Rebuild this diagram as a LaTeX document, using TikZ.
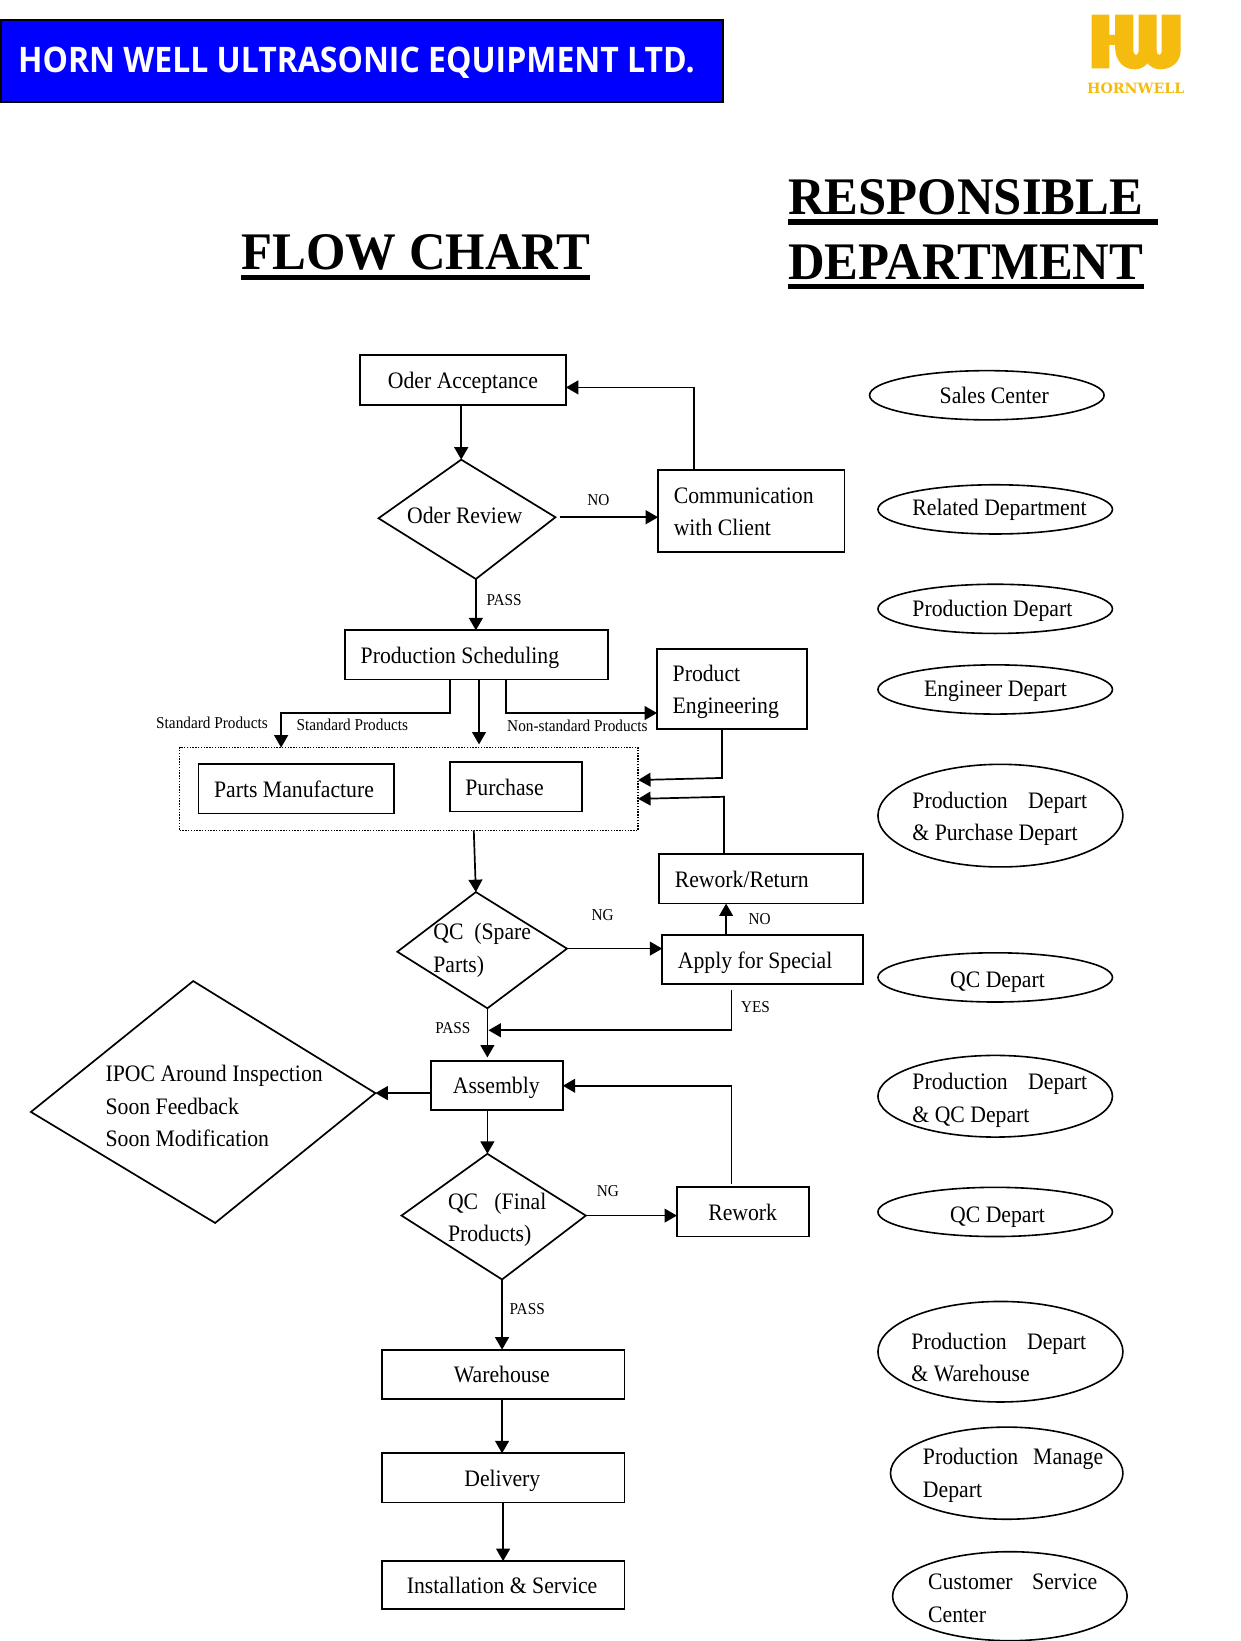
\documentclass[tikz,border=0pt]{standalone}
\usepackage{fontspec}
\setmainfont{Liberation Serif}[FakeStretch=0.92]
\newfontfamily\titlefont{Liberation Serif}[FakeStretch=0.96]
\newfontfamily\headfont{Open Sans}[FakeStretch=0.908]
\newfontfamily\logofont{DejaVu Serif}
\usetikzlibrary{arrows.meta,shapes.geometric}
\definecolor{logogold}{HTML}{F5BC0F}
\definecolor{headblue}{HTML}{0000FF}
\newcommand\bodysize{\fontsize{11.8}{16.2}\selectfont}
\newcommand\flowshape[9][0]{%
  \pgfmathsetmacro\fsX{(#4+#6)/2}\pgfmathsetmacro\fsY{(#5+#7)/2}%
  \pgfmathsetmacro\fsW{(#6-#4)*0.5235}\pgfmathsetmacro\fsH{(#7-#5)*0.5235}%
  \pgfmathsetmacro\fsO{(#8-\fsX)*0.5235}%
  \pgfmathsetmacro\fsD{-4.1-(#1)*0.5235}%
  \node[#2,minimum width=\fsW pt,minimum height=\fsH pt] (#3) at (\fsX,\fsY)
    {\makebox[0pt][l]{\hspace*{\fsO pt}\raisebox{\fsD pt}[0pt][0pt]{\begin{tabular}{@{}l@{}}#9\end{tabular}}}};%
}
\newcommand\flowdiamond[7]{% name, top, right, bottom, left, text pos, text
  \coordinate (#1-t) at (#2);\coordinate (#1-r) at (#3);\coordinate (#1-b) at (#4);\coordinate (#1-l) at (#5);
  \draw[flowline] (#1-t) -- (#1-r) -- (#1-b) -- (#1-l) -- cycle;
  \node[difftext] (#1) at (#6) {\begin{tabular}{@{}l@{}}#7\end{tabular}};%
}
\tikzset{
  flowline/.style={line width=0.85pt,draw=black},
  boxst/.style={draw=black,line width=0.9pt,rectangle,inner sep=0pt,outer sep=0pt,font=\bodysize},
  ovalst/.style={draw=black,line width=0.8pt,ellipse,inner sep=0pt,outer sep=0pt,font=\bodysize},
  difftext/.style={anchor=west,inner sep=0pt,font=\bodysize},
  arr/.style={flowline,-{Triangle[length=6.2pt,width=6.9pt]}},
  lab/.style={inner sep=0pt,font=\fontsize{8.3}{10}\selectfont},
  bigtitle/.style={inner sep=0pt,anchor=base west,font=\titlefont\bfseries\fontsize{26.4}{30}\selectfont},
}
\begin{document}
\begin{tikzpicture}[x=0.5235pt,y=-0.5235pt]
\useasboundingbox (0.5,0) rectangle (1185,1567.3);
\fill[white] (0.5,0) rectangle (1185,1567.3);
% header
\node[draw=black,line width=1pt,fill=headblue,minimum width=690*0.5235pt,minimum height=78*0.5235pt,inner sep=0pt] (head) at (346,58) {};
\node[inner sep=0pt,anchor=base west,text=white,font=\headfont\bfseries\fontsize{17.6}{20}\selectfont] (headtext) at (17.5,69) {HORN WELL ULTRASONIC EQUIPMENT LTD.};
% logo
\begin{scope}[shift={(1012.9,0)},x=0.16667pt,y=-0.16667pt]
\fill[logogold] (95,44) -- (148,44) -- (148,105) -- (165,105) -- (165,44) -- (220,44) -- (220,150)
  .. controls (220,170) and (236,170) .. (236,150) -- (236,44) -- (290,44) -- (290,150)
  .. controls (290,170) and (305,170) .. (305,150) -- (305,44) -- (362,44) -- (362,150)
  .. controls (362,190) and (330,208) .. (300,208) .. controls (285,208) and (270,200) .. (262,190)
  .. controls (255,200) and (240,208) .. (225,208) .. controls (195,208) and (165,190) .. (165,135)
  -- (148,135) -- (148,205) -- (95,205) -- cycle;
\node[inner sep=0pt,anchor=base west,text=logogold,font=\logofont\bfseries\fontsize{7.1}{8}\selectfont] (logotext) at (80,280) {HORNWELL};
\end{scope}
% titles
\node[bigtitle] (t1) at (231,257) {FLOW CHART};
\node[bigtitle] (t2) at (753,204.6) {RESPONSIBLE};
\node[bigtitle] (t3) at (753,266.5) {DEPARTMENT};
\fill (231,262.5) rectangle (564,267);
\fill (753,209.5) rectangle (1106,214.5);
\fill (753,271.6) rectangle (1093,276.4);
% boxes
\flowshape{boxst}{acc}{344}{339}{541}{387}{371}{Oder Acceptance}
\flowshape{boxst}{comm}{629}{449}{807}{527}{644}{Communication\\with Client}
\flowshape{boxst}{prod}{330}{602}{581}{649}{345}{Production Scheduling}
\flowshape{boxst}{eng}{628}{620}{771}{696}{643}{Product\\Engineering}
\node[draw=black,line width=0.7pt,dash pattern=on 0.7pt off 0.7pt,minimum width=438*0.5235pt,minimum height=79*0.5235pt,inner sep=0pt,outer sep=0pt] (dot) at (391,753.5) {};
\flowshape{boxst}{parts}{190}{730}{377}{777}{205}{Parts Manufacture}
\flowshape{boxst}{purch}{430}{728}{556}{775}{445}{Purchase}
\flowshape{boxst}{rr}{630}{816}{825}{863}{645}{Rework/Return}
\flowshape{boxst}{apply}{633}{893}{825}{940}{648}{Apply for Special}
\flowshape{boxst}{asm}{412}{1013}{538}{1060}{433}{Assembly}
\flowshape{boxst}{rew}{647}{1134}{773}{1181}{677}{Rework}
\flowshape{boxst}{ware}{365}{1289}{597}{1336}{434}{Warehouse}
\flowshape{boxst}{deliv}{365}{1388}{597}{1435}{444}{Delivery}
\flowshape{boxst}{inst}{365}{1491}{597}{1537}{389}{Installation \& Service}
% diamonds
\flowdiamond{rev}{441,439}{531,494}{455,553}{362,495}{389,494}{Oder Review}
\flowdiamond{qcs}{455,852}{542,906}{466,963}{380,909}{414,907}{QC\ \ (Spare\\Parts)}
\flowdiamond{ipoc}{185,937}{359,1044}{206,1168}{30,1062}{101,1058}{IPOC Around Inspection\\Soon Feedback\\Soon Modification}
\flowdiamond{qcf}{466,1102}{560,1161}{480,1222}{384,1161}{428,1164}{QC\ \ \ (Final\\Products)}
% ovals
\flowshape{ovalst}{o1}{831}{354}{1055}{401}{898}{Sales Center}
\flowshape[-2]{ovalst}{o2}{839}{463}{1063}{510}{872}{Related Department}
\flowshape[-1]{ovalst}{o3}{839}{558}{1063}{605}{872}{Production Depart}
\flowshape[-2]{ovalst}{o4}{839}{635}{1063}{682}{883}{Engineer Depart}
\flowshape{ovalst}{o5}{839}{730}{1073}{828}{872}{Production\hspace{10.2pt}Depart\\\& Purchase Depart}
\flowshape[1]{ovalst}{o6}{839}{910}{1063}{957}{908}{QC Depart}
\flowshape[1]{ovalst}{o7}{839}{1008}{1063}{1086}{872}{Production\hspace{10.2pt}Depart\\\& QC Depart}
\flowshape[2]{ovalst}{o8}{839}{1134}{1063}{1181}{908}{QC Depart}
\flowshape[5]{ovalst}{o9}{839}{1243}{1073}{1339}{871}{Production\hspace{10.2pt}Depart\\\& Warehouse}
\flowshape[-1]{ovalst}{o10}{851}{1363}{1073}{1451}{882}{Production\hspace{7.5pt}Manage\\Depart}
\flowshape[1]{ovalst}{o11}{853}{1482}{1077}{1567}{887}{Customer\hspace{9.8pt}Service\\Center}
% helper points
\coordinate (a1) at (535,494);
\coordinate (a2) at (663,370);
\coordinate (b1) at (430,681);\coordinate (b2) at (269,681);
\coordinate (b3) at (458,711);
\coordinate (b4) at (484,681);
\coordinate (c1) at (690,743);\coordinate (c2) at (610,745);
\coordinate (c3) at (692,761);\coordinate (c4) at (610,763);
\coordinate (d1) at (453,793);
\coordinate (e1) at (694,893);
\coordinate (f1) at (699,946);\coordinate (f2) at (699,984);\coordinate (f3) at (467,984);
\coordinate (g1) at (466,1010);
\coordinate (g2) at (412,1044);
\coordinate (h1) at (466,1060);
\coordinate (i1) at (699,1131);\coordinate (i2) at (699,1037);
\coordinate (j1) at (480,1289);
\coordinate (k1) at (481,1435);
% connectors
\draw[arr] (acc.south -| rev-t) -- (rev-t);
\draw[arr] (a1) -- (comm.west |- a1);
\draw[arr] (comm.north -| a2) -- (a2) -- (acc.east |- a2);
\draw[arr] (rev-b) -- (rev-b |- prod.north);
\draw[arr] (prod.south -| b1) -- (b1) -- (b2) -- (b2 |- dot.north);
\draw[arr] (prod.south -| b3) -- (b3);
\draw[arr] (prod.south -| b4) -- (b4) -- (eng.west |- b4);
\draw[arr] (eng.south -| c1) -- (c1) -- (c2);
\draw[arr] (rr.north -| c3) -- (c3) -- (c4);
\draw[arr] (d1) -- (qcs-t);
\draw[arr] (qcs-r) -- (apply.west |- qcs-r);
\draw[arr] (e1) -- (rr.south -| e1);
\draw[arr] (f1) -- (f2) -- (f3);
\draw[arr] (qcs-b) -- (g1);
\draw[arr] (g2) -- (ipoc-r);
\draw[arr] (h1) -- (qcf-t);
\draw[arr] (qcf-r) -- (rew.west |- qcf-r);
\draw[arr] (i1) -- (i2) -- (asm.east |- i2);
\draw[arr] (qcf-b) -- (j1);
\draw[arr] (ware.south -| j1) -- (deliv.north -| j1);
\draw[arr] (k1) -- (inst.north -| k1);
% connector labels
\node[lab] (l1) at (572,478) {NO};
\node[lab] (l2) at (482,573) {PASS};
\node[lab] (l3) at (203,690) {Standard Products};
\node[lab] (l4) at (337,692) {Standard Products};
\node[lab] (l5) at (552,693) {Non-standard Products};
\node[lab] (l6) at (576,874) {NG};
\node[lab] (l7) at (726,878) {NO};
\node[lab] (l8) at (722,962) {YES};
\node[lab] (l9) at (433,982) {PASS};
\node[lab] (l10) at (581,1138) {NG};
\node[lab] (l11) at (504,1250) {PASS};
\end{tikzpicture}
\end{document}
